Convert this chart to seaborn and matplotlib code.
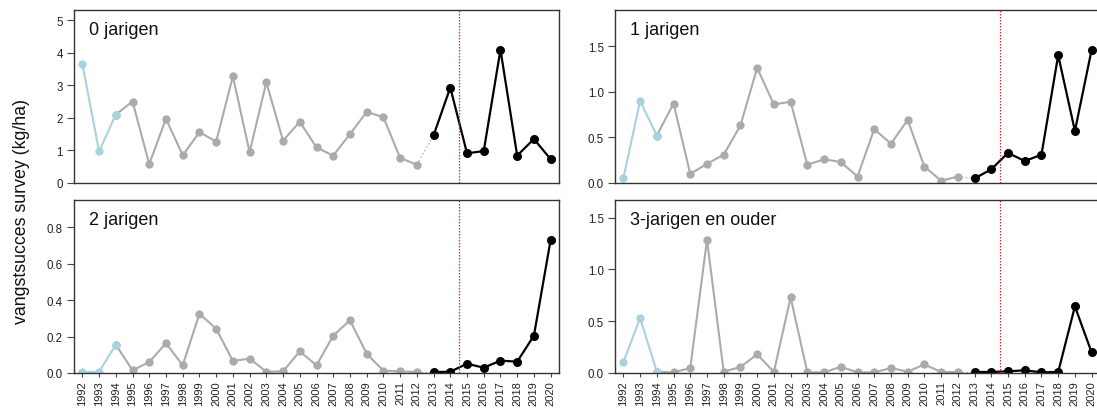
import matplotlib
matplotlib.use("Agg")
import matplotlib.pyplot as plt
from matplotlib.ticker import MultipleLocator, FormatStrFormatter
import pandas as pd
import seaborn as sns

# Survey catch rate (kg/ha) per age class, 1992-2020
years = list(range(1992, 2021))
age0 = [3.65, 0.97, 2.10, 2.50, 0.58, 1.97, 0.85, 1.56, 1.27, 3.27,
        0.95, 3.09, 1.30, 1.88, 1.09, 0.84, 1.50, 2.18, 2.02, 0.77,
        0.56, 1.46, 2.93, 0.91, 0.98, 4.09, 0.84, 1.35, 0.73]
age1 = [0.05, 0.90, 0.52, 0.87, 0.10, 0.21, 0.31, 0.63, 1.26, 0.86,
        0.89, 0.20, 0.26, 0.23, 0.07, 0.59, 0.43, 0.69, 0.18, 0.025,
        0.07, 0.05, 0.15, 0.33, 0.24, 0.31, 1.40, 0.57, 1.46]
age2 = [0.004, 0.007, 0.155, 0.015, 0.06, 0.164, 0.042, 0.325, 0.243, 0.066,
        0.079, 0.007, 0.009, 0.119, 0.042, 0.205, 0.289, 0.106, 0.013, 0.009,
        0.005, 0.005, 0.007, 0.051, 0.029, 0.068, 0.062, 0.205, 0.73]
age3 = [0.105, 0.53, 0.013, 0.006, 0.048, 1.285, 0.013, 0.058, 0.18, 0.01,
        0.73, 0.006, 0.006, 0.06, 0.006, 0.006, 0.048, 0.013, 0.083, 0.01,
        0.01, 0.01, 0.01, 0.016, 0.026, 0.006, 0.01, 0.643, 0.198]
titles = ["0 jarigen", "1 jarigen", "2 jarigen", "3-jarigen en ouder"]
tick_steps = [1.0, 0.5, 0.2, 0.5]
tick_formats = ["%d", "%.1f", "%.1f", "%.1f"]

# period boundaries: early survey, old series, new series, change of method
early_end = 1994
old_end = 2012
new_start = 2013
method_change = 2014.5

sns.set_theme(style="white")
plt.rcParams["font.family"] = ["Liberation Sans", "DejaVu Sans"]

W, H = 1097, 414
fig = plt.figure(figsize=(W / 100, H / 100), dpi=100)

def box(left, top, right, bottom):
    return [left / W, 1 - bottom / H, (right - left) / W, (bottom - top) / H]

positions = [box(74, 10.7, 559, 184), box(615, 10.7, 1100, 184),
             box(74, 201, 559, 374), box(615, 201, 1100, 374)]

c_early = "#a8d3dd"
c_old = "#ababab"
c_new = "#000000"

for i, values in enumerate([age0, age1, age2, age3]):
    ax = fig.add_axes(positions[i])
    df = pd.DataFrame({"jaar": years, "waarde": values})
    early = df[df.jaar <= early_end]
    old = df[(df.jaar >= early_end) & (df.jaar <= old_end)]
    link = df[(df.jaar >= old_end) & (df.jaar <= new_start)]
    new = df[df.jaar >= new_start]

    sns.lineplot(data=link, x="jaar", y="waarde", ax=ax, color=c_old,
                 linewidth=0.8, linestyle=(0, (1.5, 2)))
    sns.lineplot(data=old, x="jaar", y="waarde", ax=ax, color=c_old,
                 linewidth=1.5, marker="o", markersize=6, markeredgewidth=0)
    sns.lineplot(data=early, x="jaar", y="waarde", ax=ax, color=c_early,
                 linewidth=1.5, marker="o", markersize=6, markeredgewidth=0)
    sns.lineplot(data=new, x="jaar", y="waarde", ax=ax, color=c_new,
                 linewidth=1.6, marker="o", markersize=6.5, markeredgewidth=0)
    ax.axvline(method_change, color="#d03030", linewidth=0.9,
               linestyle=(0, (1.2, 1.2)), zorder=5)

    ax.set_xlim(1991.5, 2020.5)
    ax.set_ylim(0, max(values) * 1.3)
    ax.yaxis.set_major_locator(MultipleLocator(tick_steps[i]))
    ax.yaxis.set_major_formatter(FormatStrFormatter(tick_formats[i]))
    ax.set_xlabel("")
    ax.set_ylabel("")
    ax.tick_params(axis="y", left=True, length=5, width=0.8, color="#444444",
                   labelsize=8.3, labelcolor="#222222", pad=3)
    if i >= 2:
        ax.set_xticks(years)
        ax.set_xticklabels([str(y) for y in years], rotation=90)
        ax.tick_params(axis="x", bottom=True, length=3, width=0.8,
                       color="#444444", labelsize=8, labelcolor="#222222",
                       pad=2)
    else:
        ax.set_xticks([])
    for s in ax.spines.values():
        s.set_color("#333333")
        s.set_linewidth(1.0)
    ax.text(0.03, 0.885, titles[i], transform=ax.transAxes, fontsize=13,
            color="#111111", ha="left", va="center")

fig.text(0.02, 0.49, "vangstsucces survey (kg/ha)", rotation=90,
         fontsize=12.8, color="#111111", ha="center", va="center")

fig.savefig("out.png", dpi=100)
